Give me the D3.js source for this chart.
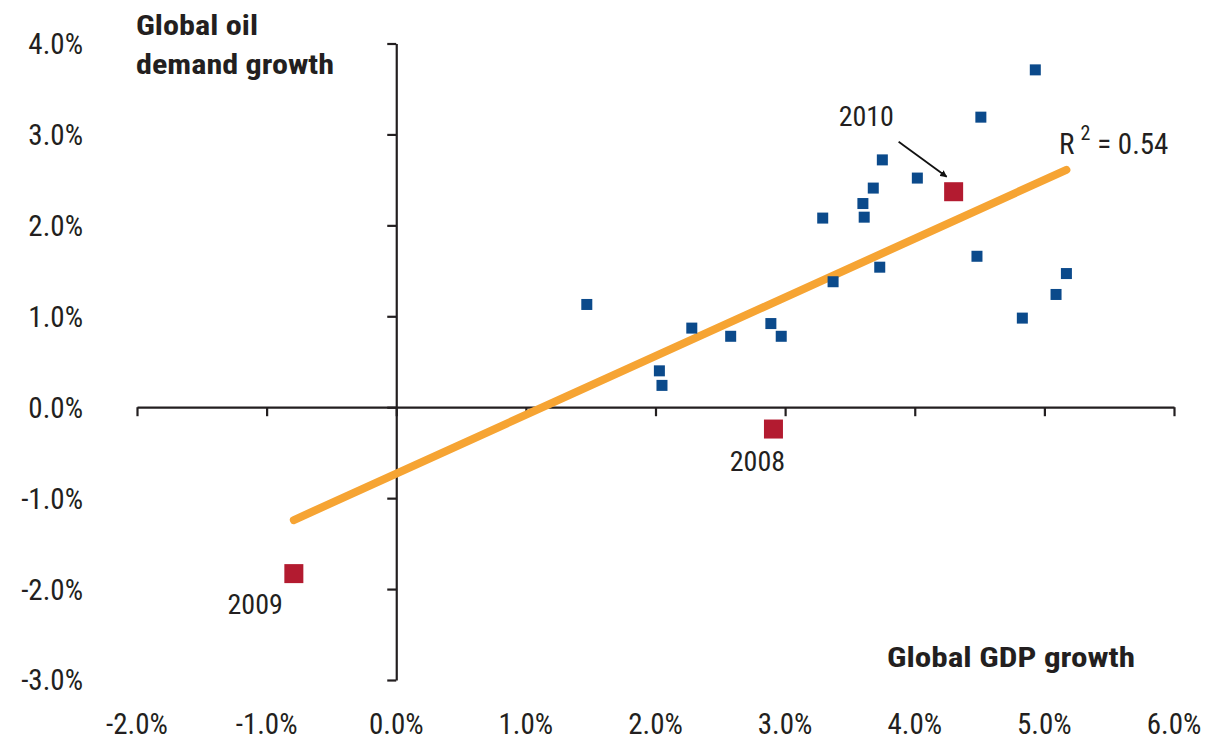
<!DOCTYPE html>
<html>
<head>
<meta charset="utf-8">
<script src="https://cdn.jsdelivr.net/npm/d3@7"></script>
<style>
  html, body { margin: 0; padding: 0; background: #fff; }
  svg { display: block; }
  text { font-family: "Liberation Sans Narrow", "Roboto Condensed", "DejaVu Sans Condensed", sans-serif; fill: #231f20; }
</style>
</head>
<body>
<svg id="chart" width="1207" height="743"></svg>
<script>
// Global GDP growth (x, %) vs global oil demand growth (y, %), one point per year
const gdpGrowth = [1.47, 2.03, 2.05, 2.28, 2.58, 2.89, 2.97, 3.29, 3.37, 3.60, 3.61,
                   3.68, 3.75, 3.73, 4.02, 4.51, 4.48, 4.93, 4.83, 5.09, 5.17];
const oilGrowth = [1.13, 0.40, 0.24, 0.87, 0.78, 0.92, 0.78, 2.08, 1.38, 2.24, 2.09,
                   2.41, 2.72, 1.54, 2.52, 3.19, 1.66, 3.71, 0.98, 1.24, 1.47];

// Highlighted recent years
const hlYears = ["2008", "2009", "2010"];
const hlGdp   = [2.91, -0.79, 4.30];
const hlOil   = [-0.24, -1.83, 2.37];

const xTicks = [-2, -1, 0, 1, 2, 3, 4, 5, 6];
const yTicks = [-3, -2, -1, 0, 1, 2, 3, 4];
const rSquaredLabel = "0.54";

const svg = d3.select("#chart");
const fmt = d => d.toFixed(1) + "%";

const x = d3.scaleLinear().domain([-2, 6]).range([137, 1174]);
const y = d3.scaleLinear().domain([-3, 4]).range([680, 43.5]);

const axisColor = "#231f20";
const blue = "#0b4a8b";
const red = "#b31b30";
const orange = "#f6a433";

// Axes crossing at the origin
const xAxis = svg.append("g")
  .attr("transform", `translate(0,${y(0)})`)
  .call(d3.axisBottom(x).tickValues(xTicks).tickSize(9).tickSizeOuter(0).tickFormat(""));
const yAxis = svg.append("g")
  .attr("transform", `translate(${x(0)},0)`)
  .call(d3.axisLeft(y).tickValues(yTicks).tickSize(9).tickSizeOuter(0).tickFormat(""));
[xAxis, yAxis].forEach(g => {
  g.selectAll("path, line").attr("stroke", axisColor).attr("stroke-width", 2.2);
});

// Tick labels along the left and bottom edges
svg.append("g").selectAll("text").data(yTicks).join("text")
  .attr("x", 83).attr("y", d => y(d)).attr("dy", "0.36em")
  .attr("text-anchor", "end").attr("font-size", 29)
  .text(fmt);
svg.append("g").selectAll("text").data(xTicks).join("text")
  .attr("x", d => x(d)).attr("y", 734)
  .attr("text-anchor", "middle").attr("font-size", 29)
  .text(fmt);

// Axis titles
const title = (tx, ty, s, w, anchor) => svg.append("text")
  .attr("x", tx).attr("y", ty).attr("text-anchor", anchor)
  .attr("font-size", 28).attr("font-weight", "bold")
  .attr("textLength", w).attr("lengthAdjust", "spacingAndGlyphs")
  .text(s);
title(136, 35, "Global oil", 122, "start");
title(136, 74, "demand growth", 198, "start");
title(887, 667, "Global GDP growth", 248, "start");

// Least-squares trend line over all years
const allX = gdpGrowth.concat(hlGdp);
const allY = oilGrowth.concat(hlOil);
const mx = d3.mean(allX), my = d3.mean(allY);
const slope = d3.sum(allX, (v, i) => (v - mx) * (allY[i] - my)) /
              d3.sum(allX, v => (v - mx) * (v - mx));
const intercept = my - slope * mx;
const [xMin, xMax] = d3.extent(allX);
svg.append("line")
  .attr("x1", x(xMin)).attr("y1", y(intercept + slope * xMin))
  .attr("x2", x(xMax)).attr("y2", y(intercept + slope * xMax))
  .attr("stroke", orange).attr("stroke-width", 8).attr("stroke-linecap", "round");

// Regular years
const bs = 11;
svg.append("g").selectAll("rect").data(gdpGrowth).join("rect")
  .attr("x", (d) => x(d) - bs / 2)
  .attr("y", (d, i) => y(oilGrowth[i]) - bs / 2)
  .attr("width", bs).attr("height", bs)
  .attr("fill", blue);

// Highlighted years
const rs = 19;
svg.append("g").selectAll("rect").data(hlGdp).join("rect")
  .attr("x", d => x(d) - rs / 2)
  .attr("y", (d, i) => y(hlOil[i]) - rs / 2)
  .attr("width", rs).attr("height", rs)
  .attr("fill", red);

// Year labels
const labelPos = {
  "2008": { dx: -16, dy: 42, anchor: "middle" },
  "2009": { dx: -11, dy: 40, anchor: "end" },
  "2010": { dx: -115, dy: -66, anchor: "start" }
};
hlYears.forEach((yr, i) => {
  const p = labelPos[yr];
  svg.append("text")
    .attr("x", x(hlGdp[i]) + p.dx).attr("y", y(hlOil[i]) + p.dy)
    .attr("text-anchor", p.anchor).attr("font-size", 28)
    .text(yr);
});

// Arrow pointing at 2010
svg.append("defs").append("marker")
  .attr("id", "arrowhead").attr("viewBox", "0 0 10 10")
  .attr("refX", 9).attr("refY", 5)
  .attr("markerWidth", 7).attr("markerHeight", 7)
  .attr("markerUnits", "userSpaceOnUse")
  .attr("orient", "auto")
  .append("path").attr("d", "M0,0 L10,5 L0,10 z").attr("fill", "#111");
const i10 = hlYears.indexOf("2010");
svg.append("line")
  .attr("x1", x(hlGdp[i10]) - 55).attr("y1", y(hlOil[i10]) - 50)
  .attr("x2", x(hlGdp[i10]) - 7).attr("y2", y(hlOil[i10]) - 15)
  .attr("stroke", "#111").attr("stroke-width", 1.8)
  .attr("marker-end", "url(#arrowhead)");

// R-squared annotation next to the line's end
const rText = svg.append("text")
  .attr("x", 1059).attr("y", 154).attr("font-size", 29);
rText.append("tspan").text("R");
rText.append("tspan").attr("font-size", 20).attr("dy", -14).attr("dx", 6).text("2");
rText.append("tspan").attr("dy", 14).attr("dx", 7).text("= " + rSquaredLabel);
</script>
</body>
</html>
